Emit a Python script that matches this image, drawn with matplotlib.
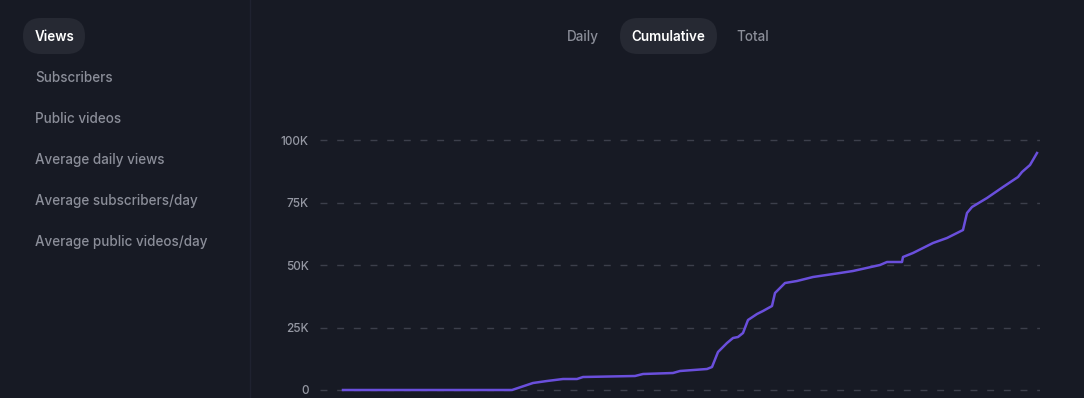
import matplotlib.pyplot as plt
from matplotlib.patches import FancyBboxPatch
from matplotlib.ticker import FuncFormatter

BG = "#171a24"
PILL = "#262933"
MUTED = "#8b8e99"
GRID = "#3c3f4b"
LINE = "#6a4fdc"

# sidebar + tabs
side_items = ["Views", "Subscribers", "Public videos", "Average daily views",
              "Average subscribers/day", "Average public videos/day"]
tabs = ["Daily", "Cumulative", "Total"]

# cumulative views (day index, views)
days = [0, 169, 184, 190, 204, 220, 234, 240, 292, 300, 330, 337, 364, 369,
        375, 384, 390, 395, 400, 405, 414, 420, 429, 432, 437, 442, 454, 470,
        497, 510, 537, 544, 559, 560, 570, 590, 604, 620, 624, 629, 644, 660,
        675, 679, 687, 694]
views = [0, 0, 2000, 2800, 3600, 4400, 4400, 5200, 5600, 6400, 6800, 7600,
         8400, 9200, 15200, 18800, 20800, 21200, 22800, 28000, 30400, 31600,
         33600, 38800, 40800, 42800, 43600, 45200, 46800, 47600, 50000, 51200,
         51200, 53200, 54800, 58800, 60800, 64000, 70800, 73200, 76800, 81200,
         85200, 87200, 90000, 94800]
yticks = [0, 25000, 50000, 75000, 100000]

W, H = 1084, 398
fig = plt.figure(figsize=(W / 100, H / 100), dpi=100, facecolor=BG)
plt.rcParams["font.family"] = ["Inter", "DejaVu Sans"]

# overlay in pixel coords for the ui chrome
ui = fig.add_axes([0, 0, 1, 1])
ui.set_xlim(0, W)
ui.set_ylim(H, 0)
ui.axis("off")
ui.set_facecolor("none")
ui.plot([250, 250], [0, H], color="#1f2230", lw=1)

ui.add_patch(FancyBboxPatch((23, 18), 62, 36, boxstyle="round,pad=0,rounding_size=18",
                            fc=PILL, ec="none"))
for i, name in enumerate(side_items):
    ui.text(35, 37 + i * 41, name, color="white" if i == 0 else MUTED,
            fontsize=9.7, weight="semibold" if i == 0 else "medium", va="center", ha="left")

ui.add_patch(FancyBboxPatch((620, 18), 97, 36, boxstyle="round,pad=0,rounding_size=18",
                            fc=PILL, ec="none"))
for name, cx in zip(tabs, [583, 668, 753]):
    ui.text(cx, 37, name, color="white" if name == "Cumulative" else MUTED,
            fontsize=9.7, weight="semibold" if name == "Cumulative" else "medium",
            ha="center", va="center")

# chart
ax = fig.add_axes([320 / W, 0, 720 / W, 298 / H])
ax.set_facecolor("none")
ax.set_xlim(-23, 697)
ax.set_ylim(-3200, 116000)
for y in yticks:
    ax.axhline(y, color=GRID, lw=1, dashes=(5, 7), zorder=1)
ax.plot(days, views, color=LINE, lw=1.8, solid_joinstyle="round", zorder=3)

ax.set_yticks(yticks)
ax.yaxis.set_major_formatter(FuncFormatter(lambda v, _: "0" if v == 0 else f"{int(v / 1000)}K"))
ax.tick_params(axis="y", length=0, pad=8, labelsize=8.5, labelcolor="#9598a3")
for lbl in ax.get_yticklabels():
    lbl.set_fontweight("medium")
ax.set_xticks([])
for s in ax.spines.values():
    s.set_visible(False)

fig.savefig("out.png", dpi=100, facecolor=BG)
